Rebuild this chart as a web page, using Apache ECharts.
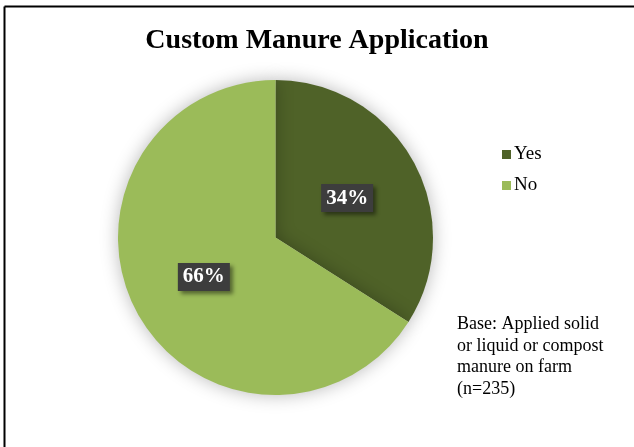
<!DOCTYPE html>
<html>
<head>
<meta charset="utf-8">
<style>
  html, body { margin: 0; padding: 0; background: #fff; }
  #chart { width: 634px; height: 447px; }
</style>
<script src="https://cdn.jsdelivr.net/npm/echarts@6/dist/echarts.min.js"></script>
</head>
<body>
<div id="chart"></div>
<script>
// Share of farms using custom manure application
const categories = ['Yes', 'No'];
const shares = [34, 66];
const sliceColors = ['#4F6228', '#9BBB59'];
const titleText = 'Custom Manure Application';
const baseNote = ['Base: Applied solid', 'or liquid or compost', 'manure on farm', '(n=235)'];

const serif = '"Liberation Serif", "Times New Roman", serif';

const chart = echarts.init(document.getElementById('chart'), null, { renderer: 'canvas' });

chart.setOption({
  backgroundColor: '#ffffff',
  animation: false,
  title: {
    text: titleText,
    left: 'center',
    top: 22,
    textStyle: { fontFamily: serif, fontWeight: 'bold', fontSize: 28, color: '#000' }
  },
  legend: {
    orient: 'vertical',
    left: 497,
    top: 140,
    itemWidth: 9,
    itemHeight: 9,
    itemGap: 12,
    icon: 'rect',
    data: categories,
    textStyle: { fontFamily: serif, fontSize: 19, color: '#000', padding: [0, 0, 0, -2] }
  },
  graphic: [
    // frame lines along the top and left edges
    { type: 'line', shape: { x1: 4.5, y1: 6.5, x2: 634, y2: 6.5 }, style: { stroke: '#000', lineWidth: 2 } },
    { type: 'line', shape: { x1: 4.5, y1: 6.5, x2: 4.5, y2: 447 }, style: { stroke: '#000', lineWidth: 2 } },
    {
      type: 'text',
      left: 457,
      top: 314,
      style: {
        text: baseNote.join('\n'),
        fontFamily: serif,
        fontSize: 18,
        lineHeight: 21.5,
        fill: '#000'
      }
    }
  ],
  series: [{
    type: 'pie',
    center: [275.5, 237.5],
    radius: [0, 157.5],
    startAngle: 90,
    clockwise: true,
    silent: true,
    itemStyle: {
      shadowBlur: 18,
      shadowColor: 'rgba(0,0,0,0.28)',
      shadowOffsetX: 0,
      shadowOffsetY: 0
    },
    label: {
      position: 'inside',
      formatter: '{c}%',
      fontFamily: serif,
      fontWeight: 'bold',
      fontSize: 21,
      color: '#fff',
      backgroundColor: '#3d3d3d',
      padding: [4, 5, 3, 5],
      shadowBlur: 4,
      shadowOffsetX: 3,
      shadowOffsetY: 3,
      shadowColor: 'rgba(0,0,0,0.45)'
    },
    labelLine: { show: false },
    data: categories.map((name, i) => ({
      name,
      value: shares[i],
      itemStyle: { color: sliceColors[i] }
    }))
  }]
});
</script>
</body>
</html>
